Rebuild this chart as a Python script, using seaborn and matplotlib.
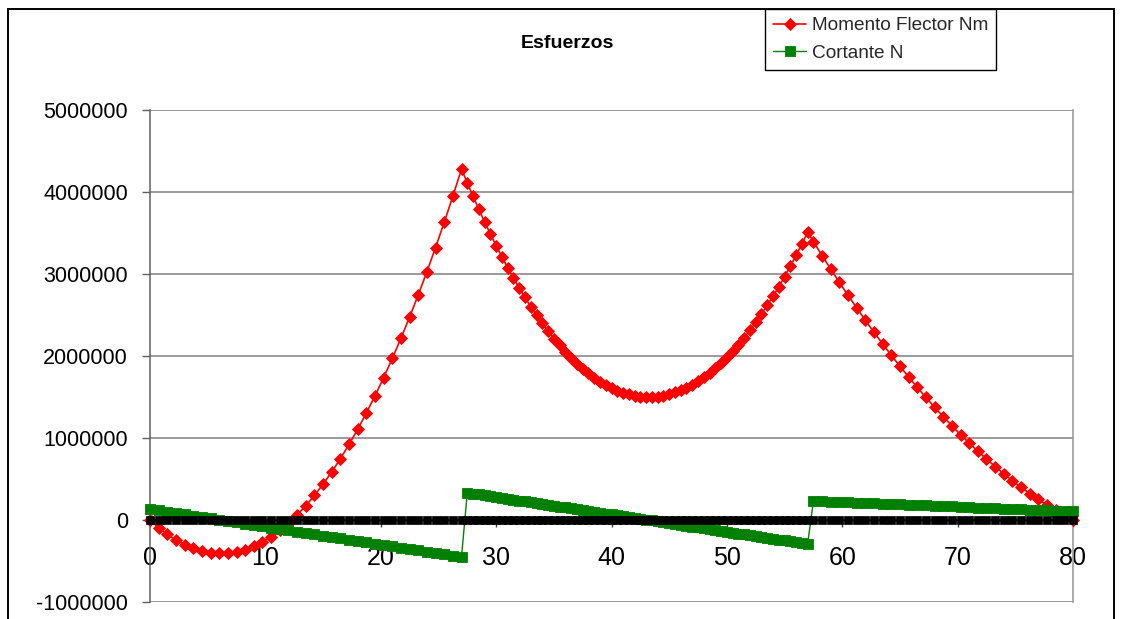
import matplotlib
matplotlib.use("Agg")
import matplotlib.pyplot as plt
import matplotlib.patches as patches
import pandas as pd
import seaborn as sns

# estaciones (m) por tramo
x_tramo1 = [0, 0.75, 1.5, 2.25, 3, 3.75, 4.5, 5.25, 6, 6.75, 7.5, 8.25, 9, 9.75,
            10.5, 11.25, 12, 12.75, 13.5, 14.25, 15, 15.75, 16.5, 17.25, 18, 18.75,
            19.5, 20.25, 21, 21.75, 22.5, 23.25, 24, 24.75, 25.5, 26.25, 27]
x_tramo2 = [27.5, 28, 28.5, 29, 29.5, 30, 30.5, 31, 31.5, 32, 32.5, 33, 33.5, 34,
            34.5, 35, 35.5, 36, 36.5, 37, 37.5, 38, 38.5, 39, 39.5, 40, 40.5, 41,
            41.5, 42, 42.5, 43, 43.5, 44, 44.5, 45, 45.5, 46, 46.5, 47, 47.5, 48,
            48.5, 49, 49.5, 50, 50.5, 51, 51.5, 52, 52.5, 53, 53.5, 54, 54.5, 55,
            55.5, 56, 56.5, 57]
x_tramo3 = [57.5, 58.25, 59, 59.75, 60.5, 61.25, 62, 62.75, 63.5, 64.25, 65, 65.75,
            66.5, 67.25, 68, 68.75, 69.5, 70.25, 71, 71.75, 72.5, 73.25, 74, 74.75,
            75.5, 76.25, 77, 77.75, 78.5, 79.25, 80]

momento_tramo1 = [0, -93000, -175000, -244000, -301000, -346000, -379000, -399000,
                  -408000, -404000, -388000, -360000, -320000, -268000, -204000,
                  -127000, -39000, 62000, 175000, 300000, 437000, 586000, 747000,
                  921000, 1107000, 1304000, 1514000, 1736000, 1970000, 2217000,
                  2475000, 2746000, 3028000, 3323000, 3630000, 3949000, 4280000]
momento_tramo2 = [4111000, 3948000, 3789000, 3636000, 3489000, 3346000, 3209000, 3077000,
                  2951000, 2830000, 2714000, 2603000, 2498000, 2397000, 2303000, 2213000,
                  2129000, 2050000, 1976000, 1908000, 1845000, 1787000, 1735000, 1687000,
                  1645000, 1609000, 1577000, 1551000, 1531000, 1515000, 1505000, 1500000,
                  1500000, 1506000, 1517000, 1533000, 1555000, 1581000, 1614000, 1651000,
                  1694000, 1742000, 1795000, 1853000, 1917000, 1986000, 2061000, 2140000,
                  2225000, 2316000, 2411000, 2512000, 2618000, 2730000, 2846000, 2969000,
                  3096000, 3228000, 3366000, 3509000]
momento_tramo3 = [3395000, 3225000, 3060000, 2898000, 2740000, 2586000, 2436000, 2290000,
                  2148000, 2009000, 1875000, 1744000, 1618000, 1495000, 1376000, 1261000,
                  1149000, 1042000, 939000, 839000, 743000, 652000, 564000, 480000,
                  399000, 323000, 251000, 182000, 118000, 57000, 0]

cortante_tramo1 = [133000, 116000, 100000, 84000, 68000, 52000, 36000, 19000, 3000,
                   -13000, -29000, -45000, -62000, -78000, -94000, -110000, -126000,
                   -143000, -159000, -175000, -191000, -207000, -223000, -240000,
                   -256000, -272000, -288000, -304000, -320000, -337000, -353000,
                   -369000, -385000, -401000, -418000, -434000, -450000]
cortante_tramo2 = [332000, 322000, 311000, 301000, 290000, 280000, 269000, 258000, 248000,
                   237000, 227000, 216000, 206000, 195000, 184000, 174000, 163000, 153000,
                   142000, 132000, 121000, 110000, 100000, 89000, 79000, 68000, 57000,
                   47000, 36000, 26000, 15000, 5000, -6000, -17000, -27000, -38000,
                   -48000, -59000, -70000, -80000, -91000, -101000, -112000, -122000,
                   -133000, -144000, -154000, -165000, -175000, -186000, -196000,
                   -207000, -218000, -228000, -239000, -249000, -260000, -270000,
                   -281000, -292000]
cortante_tramo3 = [232000, 228000, 224000, 220000, 215000, 211000, 207000, 203000, 199000,
                   194000, 190000, 186000, 182000, 178000, 173000, 169000, 165000, 161000,
                   157000, 152000, 148000, 144000, 140000, 136000, 131000, 127000, 123000,
                   119000, 115000, 110000, 106000]

x_ticks = [0, 10, 20, 30, 40, 50, 60, 70, 80]
y_ticks = [-1000000, 0, 1000000, 2000000, 3000000, 4000000, 5000000]
y_tick_labels = ["-1000000", "0", "1000000", "2000000", "3000000", "4000000", "5000000"]

x = x_tramo1 + x_tramo2 + x_tramo3
df = pd.DataFrame({
    "x": x,
    "Momento Flector Nm": momento_tramo1 + momento_tramo2 + momento_tramo3,
    "Cortante N": cortante_tramo1 + cortante_tramo2 + cortante_tramo3,
    "cero": [0] * len(x),
})

sns.set_theme(style="white")
plt.rcParams["font.family"] = ["Liberation Sans", "DejaVu Sans"]

fig = plt.figure(figsize=(11.22, 6.19), dpi=100)
ax = fig.add_axes([150 / 1122, 1 - 602 / 619, 923 / 1122, 492 / 619])

sns.lineplot(data=df, x="x", y="Momento Flector Nm", color="#ff0000", linewidth=1.2,
             marker="D", markersize=6, markeredgecolor="#ff0000", markeredgewidth=0.6,
             estimator=None, sort=False, clip_on=False, zorder=3, ax=ax,
             label="Momento Flector Nm")
sns.lineplot(data=df, x="x", y="Cortante N", color="#008000", linewidth=1.0,
             marker="s", markersize=6.8, markeredgecolor="#008000", markeredgewidth=0.6,
             estimator=None, sort=False, clip_on=False, zorder=4, ax=ax,
             label="Cortante N")
sns.lineplot(data=df, x="x", y="cero", color="black", linewidth=1.0,
             marker="s", markersize=5.3, markeredgecolor="black", markeredgewidth=0.5,
             estimator=None, sort=False, clip_on=False, zorder=5, ax=ax)

# el eje x cruza en y = 0 (hay que fijarlo antes de dar formato a las marcas)
ax.spines["bottom"].set_position(("data", 0))
ax.spines["bottom"].set_color("#404040")
ax.spines["left"].set_color("#606060")
ax.spines["left"].set_linewidth(1.1)
ax.spines["right"].set_color("#a0a0a0")
ax.spines["top"].set_visible(False)

ax.set_xlim(0, 80)
ax.set_ylim(-1000000, 5000000)
ax.set_xticks(x_ticks)
ax.set_xticklabels([str(t) for t in x_ticks])
ax.set_yticks(y_ticks)
ax.set_yticklabels(y_tick_labels)
ax.set_xlabel("")
ax.set_ylabel("")

ax.grid(axis="y", color="#808080", linewidth=1.1)
ax.grid(axis="x", visible=False)
ax.set_axisbelow(True)

ax.tick_params(axis="x", direction="out", length=5, width=1, color="#404040",
               pad=14, bottom=True, labelcolor="black", labelsize=18)
ax.tick_params(axis="y", direction="out", length=6, width=1, color="#606060",
               pad=10, left=True, labelcolor="black", labelsize=15.5)

fig.text(567 / 1122, 1 - 43 / 619, "Esfuerzos", ha="center", va="center",
         fontsize=14, fontweight="bold", color="black")

handles = ax.lines[:2]
leg = ax.legend(handles=handles, labels=["Momento Flector Nm", "Cortante N"],
                loc="upper left", bbox_to_anchor=(765 / 1122, 1 - 9 / 619),
                bbox_transform=fig.transFigure, frameon=True, fancybox=False,
                edgecolor="black", framealpha=1, borderaxespad=0, borderpad=0.42,
                handlelength=1.75, handletextpad=0.3, labelspacing=0.55,
                fontsize=13.7, numpoints=1)
leg.get_frame().set_linewidth(1.0)

borde = patches.Rectangle((8 / 1122, -0.05), 1106 / 1122, 1.05 - 9 / 619,
                          transform=fig.transFigure, fill=False,
                          edgecolor="black", linewidth=1.4)
fig.patches.append(borde)

fig.savefig("out.png", dpi=100)
